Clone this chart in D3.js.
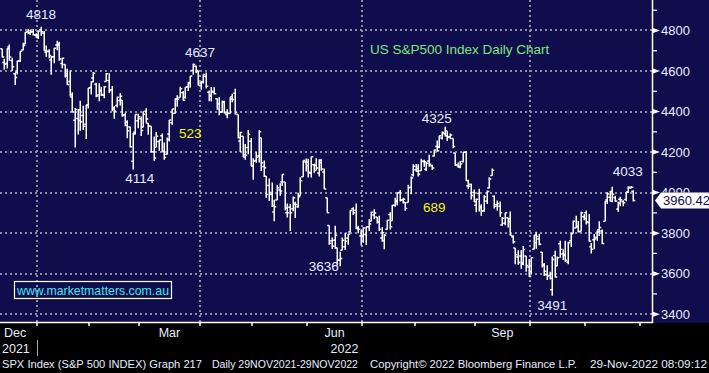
<!DOCTYPE html>
<html>
<head>
<meta charset="utf-8">
<script src="https://cdn.jsdelivr.net/npm/d3@7"></script>
<style>
  body { margin: 0; background: #000; }
  svg { display: block; font-family: "Liberation Sans", Arial, sans-serif; }
</style>
</head>
<body>
<svg id="chart" width="709" height="373"></svg>
<script>
// trading days shown, by month
let months = ["2021-12", "2022-01", "2022-02", "2022-03", "2022-04", "2022-05",
              "2022-06", "2022-07", "2022-08", "2022-09", "2022-10", "2022-11"];
let monthDays = [
  [13,14,15,16,17,20,21,22,23,27,28,29,30,31],
  [3,4,5,6,7,10,11,12,13,14,18,19,20,21,24,25,26,27,28,31],
  [1,2,3,4,7,8,9,10,11,14,15,16,17,18,22,23,24,25,28],
  [1,2,3,4,7,8,9,10,11,14,15,16,17,18,21,22,23,24,25,28,29,30,31],
  [1,4,5,6,7,8,11,12,13,14,18,19,20,21,22,25,26,27,28,29],
  [2,3,4,5,6,9,10,11,12,13,16,17,18,19,20,23,24,25,26,27,31],
  [1,2,3,6,7,8,9,10,13,14,15,16,17,21,22,23,24,27,28,29,30],
  [1,5,6,7,8,11,12,13,14,15,18,19,20,21,22,25,26,27,28,29],
  [1,2,3,4,5,8,9,10,11,12,15,16,17,18,19,22,23,24,25,26,29,30,31],
  [1,2,6,7,8,9,12,13,14,15,16,19,20,21,22,23,26,27,28,29,30],
  [3,4,5,6,7,10,11,12,13,14,17,18,19,20,21,24,25,26,27,28,31],
  [1,2,3,4,7,8,9,10,11,14,15,16,17,18,21,22,23,25,28]
];

let opens = [
  4710,4642,4637,4719,4652,4587,4594,4650,4704,4733,4795,4788,4795,4776,
  4778,4804,4787,4693,4698,4655,4670,4728,4733,4637,4632,4588,4548,4472,4357,4366,4409,4381,4337,4432,
  4519,4566,4535,4483,4505,4481,4548,4553,4507,4412,4430,4455,4456,4384,4333,4324,4155,4298,4354,
  4364,4322,4401,4342,4327,4202,4224,4252,4280,4202,4189,4289,4345,4391,4462,4469,4493,4469,4523,4541,4602,4624,4599,
  4541,4547,4573,4495,4475,4495,4463,4437,4398,4450,4385,4390,4473,4490,4385,4255,4278,4187,4223,4253,
  4131,4159,4181,4271,4129,4081,4035,3991,3904,3964,4013,4052,4052,3900,3928,3920,3942,3930,3985,4078,4151,
  4150,4096,4138,4135,4097,4148,4102,3974,3838,3763,3765,3728,3666,3716,3733,3775,3805,3920,3913,3826,3786,
  3782,3793,3831,3859,3889,3880,3855,3776,3764,3819,3892,3861,3936,3956,4000,3965,3953,3951,4027,4088,
  4113,4105,4108,4154,4115,4156,4133,4181,4227,4225,4269,4291,4281,4274,4267,4195,4134,4126,4154,4199,4034,4041,4000,
  3937,3995,3931,3910,3959,4023,4084,3982,3940,3933,3840,3849,3876,3871,3782,3727,3682,3687,3652,3687,3633,
  3610,3721,3753,3771,3706,3645,3595,3591,3520,3690,3638,3747,3697,3689,3657,3763,3799,3825,3834,3809,3881,
  3901,3853,3733,3767,3780,3817,3810,3859,3964,3977,4007,3976,3919,3967,3956,3966,4000,4023,4005
];
let highs = [
  4710,4660,4712,4731,4666,4592,4651,4697,4740,4791,4807,4804,4808,4787,
  4797,4818,4798,4726,4708,4673,4715,4749,4744,4666,4632,4611,4603,4495,4417,4411,4453,4429,4432,4516,
  4550,4595,4542,4540,4522,4526,4590,4589,4526,4427,4473,4490,4457,4394,4357,4325,4295,4385,4389,
  4375,4401,4416,4343,4327,4277,4299,4258,4292,4247,4272,4358,4412,4465,4481,4523,4501,4520,4546,4576,4637,4627,4603,
  4548,4583,4593,4504,4521,4520,4464,4471,4453,4453,4411,4471,4488,4513,4386,4300,4278,4240,4309,4269,
  4169,4200,4308,4271,4158,4082,4069,4050,3965,4039,4046,4090,4052,3946,3944,3981,3955,3999,4076,4158,4168,
  4167,4177,4142,4169,4165,4165,4119,3974,3838,3778,3837,3728,3708,3779,3801,3796,3913,3928,3946,3837,3818,
  3829,3832,3870,3905,3918,3880,3886,3829,3796,3864,3903,3939,3975,3999,4013,3975,3954,4039,4079,4140,
  4141,4140,4167,4162,4151,4187,4137,4211,4257,4280,4301,4325,4303,4292,4267,4196,4149,4156,4200,4204,4063,4044,4015,
  3970,4019,3942,3987,4011,4076,4119,3986,3961,3956,3880,3900,3876,3907,3790,3727,3715,3717,3736,3687,3672,
  3680,3791,3807,3797,3707,3653,3641,3609,3685,3713,3685,3763,3720,3762,3757,3799,3862,3886,3860,3905,3893,
  3912,3894,3751,3796,3814,3859,3818,3958,4002,4008,4029,3984,3955,3979,3962,4003,4031,4033,4012
];
let lows = [
  4667,4606,4612,4651,4600,4531,4583,4645,4703,4733,4781,4778,4775,4766,
  4758,4774,4700,4671,4663,4582,4638,4702,4651,4614,4568,4531,4474,4396,4223,4287,4305,4309,4264,4415,
  4484,4545,4470,4451,4477,4466,4547,4491,4401,4365,4420,4430,4374,4327,4268,4223,4114,4287,4318,
  4279,4322,4345,4285,4199,4157,4224,4206,4200,4162,4188,4252,4335,4390,4424,4469,4455,4465,4502,4518,4582,4589,4530,
  4507,4539,4514,4451,4450,4484,4409,4382,4394,4392,4367,4390,4446,4385,4267,4200,4175,4162,4189,4131,
  4063,4147,4148,4107,4077,3975,3958,3929,3859,3964,3984,4033,3913,3877,3810,3908,3875,3925,3985,4078,4104,
  4074,4074,4098,4110,4080,4108,4018,3900,3743,3722,3723,3640,3636,3716,3717,3743,3805,3889,3821,3800,3739,
  3752,3742,3811,3859,3869,3847,3811,3758,3721,3817,3818,3861,3930,3937,3956,3946,3911,3951,3992,4080,
  4104,4079,4108,4128,4107,4128,4112,4178,4201,4219,4262,4277,4255,4263,4219,4131,4123,4120,4148,4057,4017,3966,3954,
  3903,3907,3886,3906,3944,4022,4083,3921,3912,3880,3837,3839,3828,3789,3749,3647,3644,3624,3641,3610,3585,
  3597,3721,3723,3740,3631,3588,3569,3571,3491,3581,3638,3679,3667,3657,3647,3733,3799,3825,3803,3809,3863,
  3843,3758,3699,3721,3763,3786,3745,3859,3944,3956,3953,3954,3906,3933,3933,3957,3998,4021,3956
];
let closes = [
  4669,4634,4710,4669,4621,4568,4649,4697,4726,4791,4786,4793,4779,4766,
  4797,4794,4701,4696,4677,4670,4713,4726,4659,4663,4577,4533,4483,4398,4410,4356,4350,4327,4432,4516,
  4547,4589,4477,4501,4484,4522,4587,4504,4419,4402,4471,4475,4380,4349,4305,4226,4289,4385,4374,
  4306,4387,4363,4329,4201,4171,4278,4260,4204,4173,4262,4358,4412,4463,4461,4512,4456,4520,4543,4576,4632,4602,4530,
  4546,4583,4525,4481,4500,4488,4413,4397,4447,4393,4392,4462,4459,4394,4272,4296,4175,4184,4288,4132,
  4155,4175,4300,4147,4123,3991,4001,3935,3930,4024,4008,4089,3924,3901,3901,3974,3941,3979,4058,4158,4132,
  4101,4177,4109,4121,4161,4116,4018,3901,3750,3735,3790,3667,3675,3765,3760,3796,3912,3900,3822,3819,3785,
  3825,3831,3845,3903,3899,3854,3819,3802,3790,3863,3831,3937,3960,3999,3962,3967,3921,4024,4072,4130,
  4119,4091,4155,4152,4145,4140,4122,4210,4207,4280,4297,4305,4274,4284,4228,4138,4129,4141,4199,4058,4031,3986,3955,
  3967,3924,3908,3980,4006,4067,4110,3933,3946,3901,3873,3900,3856,3790,3758,3693,3655,3647,3719,3640,3586,
  3678,3791,3783,3745,3640,3612,3589,3577,3670,3583,3678,3720,3695,3666,3753,3797,3859,3831,3807,3901,3872,
  3856,3760,3720,3771,3807,3828,3749,3956,3993,3957,3992,3959,3947,3965,3950,4004,4027,4026,3960.42
];

let yTicks = [3400, 3600, 3800, 4000, 4200, 4400, 4600, 4800];
let yMinorTicks = [3500, 3700, 3900, 4100, 4300, 4500, 4700, 4900];
let quarterMonths = ["2022-01", "2022-04", "2022-07", "2022-10"];
let monthLabels = [["2021-12", "Dec"], ["2022-03", "Mar"], ["2022-06", "Jun"], ["2022-09", "Sep"]];

// text labels anchored at [date, price]
let notes = [
  ["4818", "2022-01-04", 4881, 0, "#e6ecff"],
  ["4637", "2022-03-29", 4694, 7, "#e6ecff"],
  ["4114", "2022-02-24", 4072, 7, "#e6ecff"],
  ["3636", "2022-06-17", 3636, -16, "#e6ecff"],
  ["4325", "2022-08-16", 4367, -8, "#e6ecff"],
  ["3491", "2022-10-13", 3446, 0, "#e6ecff"],
  ["4033", "2022-11-25", 4107, -3, "#e6ecff"],
  ["523", "2022-03-28", 4294, 0, "#f5f500"],
  ["689", "2022-08-10", 3929, 0, "#f5f500"]
];

let dates = [];
months.forEach((m, i) => monthDays[i].forEach(d => dates.push(m + "-" + String(d).padStart(2, "0"))));
let data = dates.map((d, i) => ({ date: d, o: opens[i], h: highs[i], l: lows[i], c: closes[i] }));

let plotW = 652, plotH = 323;
let bg = "#0f0d4b";
let textCol = "#e6ecff";

let svg = d3.select("#chart");
svg.append("rect").attr("width", 709).attr("height", plotH).attr("fill", bg);

let x = d3.scaleLinear().domain([13.5, 243.5]).range([37, 640]);
let y = d3.scaleLinear().domain([3356.5, 4950.5]).range([plotH, 0]);

// first bar index of each month -> boundary between months
let monthStart = {};
dates.forEach((d, i) => { let m = d.slice(0, 7); if (!(m in monthStart)) monthStart[m] = i; });
monthStart["2022-12"] = dates.length + 2;
monthStart["2021-12"] = -8;
let boundary = m => x(monthStart[m] - 0.5);

let grid = svg.append("g")
  .attr("stroke", "#8e8ea4")
  .attr("stroke-width", 2)
  .attr("stroke-dasharray", "2,3");
grid.selectAll("line.h").data(yTicks).join("line")
  .attr("x1", 0).attr("x2", plotW)
  .attr("y1", d => Math.round(y(d))).attr("y2", d => Math.round(y(d)));
grid.selectAll("line.v").data(quarterMonths).join("line")
  .attr("x1", d => Math.round(boundary(d))).attr("x2", d => Math.round(boundary(d)))
  .attr("y1", 0).attr("y2", plotH);

svg.append("clipPath").attr("id", "clip")
  .append("rect").attr("width", plotW).attr("height", plotH);

let tick = 2;
svg.append("g").attr("clip-path", "url(#clip)")
  .selectAll("path").data(data).join("path")
  .attr("fill", "none")
  .attr("stroke", "#fff")
  .attr("stroke-width", 1.5)
  .attr("d", (d, i) => {
    let cx = Math.round(x(i)) + 0.25;
    return `M${cx},${y(d.h)}V${y(d.l)}M${cx - tick},${y(d.o)}H${cx}M${cx},${y(d.c)}H${cx + tick}`;
  });

// axes lines
svg.append("line").attr("x1", 0).attr("x2", plotW + 1).attr("y1", plotH - 0.5).attr("y2", plotH - 0.5)
  .attr("stroke", "#fff").attr("stroke-width", 1.5);
svg.append("line").attr("x1", plotW + 0.5).attr("x2", plotW + 0.5).attr("y1", 0).attr("y2", plotH)
  .attr("stroke", "#fff").attr("stroke-width", 1.5);

// last price tag position
let last = data[data.length - 1];
let ly = y(last.c);

// the tag hides the part of the labels behind it
svg.append("clipPath").attr("id", "axisclip")
  .append("path")
  .attr("d", `M${plotW},0H709V${ly - 8}H${plotW + 9}L${plotW + 3},${ly}L${plotW + 9},${ly + 8}H709V${plotH}H${plotW}Z`);

// right axis
let ra = svg.append("g");
ra.selectAll("path.major").data(yTicks).join("path")
  .attr("d", d => `M${plotW + 1},${y(d) - 2.5}L${plotW + 8},${y(d)}L${plotW + 1},${y(d) + 2.5}Z`)
  .attr("fill", "#fff");
ra.selectAll("line.minor").data(yMinorTicks).join("line")
  .attr("x1", plotW + 1).attr("x2", plotW + 5)
  .attr("y1", d => y(d)).attr("y2", d => y(d))
  .attr("stroke", "#fff").attr("stroke-width", 1.2);
ra.append("g").attr("clip-path", "url(#axisclip)")
  .selectAll("text").data(yTicks).join("text")
  .attr("x", plotW + 9).attr("y", d => y(d)).attr("dy", "0.36em")
  .attr("fill", textCol).attr("font-size", 13)
  .text(d => d);

// last price tag
svg.append("path")
  .attr("d", `M${plotW + 3},${ly}L${plotW + 9},${ly - 8}H709V${ly + 8}H${plotW + 9}Z`)
  .attr("fill", "#fff");
svg.append("text").attr("x", plotW + 11).attr("y", ly).attr("dy", "0.36em")
  .attr("fill", bg).attr("font-size", 13).text(d3.format(".2f")(last.c));

// bottom axis
let months12 = Object.keys(monthStart).filter(m => m !== "2021-12");
svg.append("g").selectAll("line").data(months12).join("line")
  .attr("x1", d => Math.round(boundary(d))).attr("x2", d => Math.round(boundary(d)))
  .attr("y1", plotH).attr("y2", plotH + 3)
  .attr("stroke", "#fff").attr("stroke-width", 1.5);

let monthMid = m => {
  let keys = Object.keys(monthStart).sort();
  let k = keys.indexOf(m);
  return (boundary(keys[k]) + boundary(keys[k + 1])) / 2;
};
svg.append("g").selectAll("text").data(monthLabels).join("text")
  .attr("x", d => d[0] === "2021-12" ? 4 : monthMid(d[0]))
  .attr("text-anchor", d => d[0] === "2021-12" ? "start" : "middle")
  .attr("y", 337).attr("fill", textCol).attr("font-size", 12.5)
  .text(d => d[1]);
svg.append("text").attr("x", 2).attr("y", 353).attr("fill", textCol).attr("font-size", 12.5).text("2021");
svg.append("text").attr("x", (boundary("2022-01") + plotW) / 2).attr("y", 353).attr("text-anchor", "middle")
  .attr("fill", textCol).attr("font-size", 12.5).text("2022");
svg.append("line").attr("x1", Math.round(boundary("2022-01")) + 0.5).attr("x2", Math.round(boundary("2022-01")) + 0.5)
  .attr("y1", 340).attr("y2", 356).attr("stroke", "#aaa").attr("stroke-width", 1);

// footer
let footer = [
  [2, "SPX Index (S&P 500 INDEX) Graph 217", 200],
  [212, "Daily 29NOV2021-29NOV2022", 146],
  [370, "Copyright\u00a9 2022 Bloomberg Finance L.P.", 207],
  [590, "29-Nov-2022 08:09:12", 117]
];
svg.append("g").selectAll("text").data(footer).join("text")
  .attr("x", d => d[0]).attr("y", 368)
  .attr("textLength", d => d[2]).attr("lengthAdjust", "spacingAndGlyphs")
  .attr("fill", textCol).attr("font-size", 11.5)
  .text(d => d[1]);

// chart annotations
svg.append("g").selectAll("text").data(notes).join("text")
  .attr("x", d => x(dates.indexOf(d[1])) + d[3])
  .attr("y", d => y(d[2])).attr("dy", "0.36em")
  .attr("text-anchor", "middle")
  .attr("fill", d => d[4]).attr("font-size", 13.5)
  .text(d => d[0]);

svg.append("text").attr("x", 370).attr("y", 49).attr("dy", "0.36em")
  .attr("fill", "#80e680").attr("font-size", 13.5)
  .text("US S&P500 Index Daily Chart");

svg.append("rect").attr("x", 14.5).attr("y", 281.5).attr("width", 157).attr("height", 17)
  .attr("fill", "none").attr("stroke", "#fff").attr("stroke-width", 1.2);
svg.append("text").attr("x", 93).attr("y", 290).attr("dy", "0.36em").attr("text-anchor", "middle")
  .attr("fill", "#3ee8f2").attr("font-size", 13)
  .attr("textLength", 152).attr("lengthAdjust", "spacingAndGlyphs")
  .text("www.marketmatters.com.au");
</script>
</body>
</html>
